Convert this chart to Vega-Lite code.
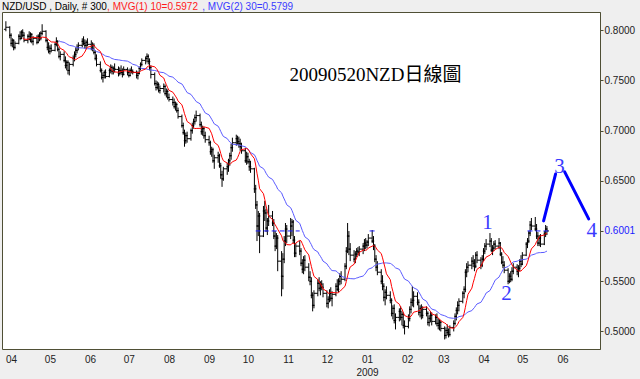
{
"$schema":"https://vega.github.io/schema/vega-lite/v6.json",
"width":598,"height":337,
"autosize":{"type":"none"},
"padding":{"left":2,"top":12,"right":40,"bottom":30},
"background":"#efefef",
"config":{"view":{"fill":"#ffffff","stroke":"#4f4f35","strokeWidth":1},"font":"Liberation Sans"},
"datasets":{
"px":[
{"d":"2008-03-28","o":0.8010,"h":0.8090,"l":0.7990,"c":0.8030},
{"d":"2008-03-31","o":0.8030,"h":0.8040,"l":0.7920,"c":0.7950},
{"d":"2008-04-01","o":0.7950,"h":0.7970,"l":0.7840,"c":0.7870},
{"d":"2008-04-02","o":0.7870,"h":0.7920,"l":0.7830,"c":0.7900},
{"d":"2008-04-03","o":0.7900,"h":0.7910,"l":0.7800,"c":0.7830},
{"d":"2008-04-04","o":0.7830,"h":0.7890,"l":0.7810,"c":0.7870},
{"d":"2008-04-07","o":0.7870,"h":0.7960,"l":0.7860,"c":0.7940},
{"d":"2008-04-08","o":0.7940,"h":0.7990,"l":0.7900,"c":0.7920},
{"d":"2008-04-09","o":0.7920,"h":0.8000,"l":0.7910,"c":0.7980},
{"d":"2008-04-10","o":0.7980,"h":0.8010,"l":0.7930,"c":0.7950},
{"d":"2008-04-11","o":0.7950,"h":0.7980,"l":0.7880,"c":0.7900},
{"d":"2008-04-14","o":0.7900,"h":0.7960,"l":0.7870,"c":0.7940},
{"d":"2008-04-15","o":0.7940,"h":0.7990,"l":0.7900,"c":0.7910},
{"d":"2008-04-16","o":0.7910,"h":0.7980,"l":0.7880,"c":0.7960},
{"d":"2008-04-17","o":0.7960,"h":0.7970,"l":0.7870,"c":0.7890},
{"d":"2008-04-18","o":0.7890,"h":0.7940,"l":0.7850,"c":0.7920},
{"d":"2008-04-21","o":0.7920,"h":0.7950,"l":0.7860,"c":0.7880},
{"d":"2008-04-22","o":0.7880,"h":0.7960,"l":0.7870,"c":0.7940},
{"d":"2008-04-23","o":0.7940,"h":0.7980,"l":0.7890,"c":0.7920},
{"d":"2008-04-24","o":0.7920,"h":0.7990,"l":0.7900,"c":0.7970},
{"d":"2008-04-25","o":0.7970,"h":0.8060,"l":0.7950,"c":0.7990},
{"d":"2008-04-28","o":0.7990,"h":0.8000,"l":0.7880,"c":0.7900},
{"d":"2008-04-29","o":0.7900,"h":0.7910,"l":0.7800,"c":0.7830},
{"d":"2008-04-30","o":0.7830,"h":0.7880,"l":0.7770,"c":0.7790},
{"d":"2008-05-01","o":0.7790,"h":0.7850,"l":0.7760,"c":0.7820},
{"d":"2008-05-02","o":0.7820,"h":0.7860,"l":0.7780,"c":0.7800},
{"d":"2008-05-05","o":0.7800,"h":0.7880,"l":0.7790,"c":0.7860},
{"d":"2008-05-06","o":0.7860,"h":0.7930,"l":0.7840,"c":0.7890},
{"d":"2008-05-07","o":0.7890,"h":0.7900,"l":0.7790,"c":0.7810},
{"d":"2008-05-08","o":0.7810,"h":0.7830,"l":0.7720,"c":0.7740},
{"d":"2008-05-09","o":0.7740,"h":0.7790,"l":0.7700,"c":0.7760},
{"d":"2008-05-12","o":0.7760,"h":0.7790,"l":0.7680,"c":0.7700},
{"d":"2008-05-13","o":0.7700,"h":0.7740,"l":0.7620,"c":0.7650},
{"d":"2008-05-14","o":0.7650,"h":0.7700,"l":0.7600,"c":0.7680},
{"d":"2008-05-15","o":0.7680,"h":0.7700,"l":0.7560,"c":0.7600},
{"d":"2008-05-16","o":0.7600,"h":0.7680,"l":0.7550,"c":0.7660},
{"d":"2008-05-19","o":0.7660,"h":0.7750,"l":0.7640,"c":0.7720},
{"d":"2008-05-20","o":0.7720,"h":0.7790,"l":0.7690,"c":0.7760},
{"d":"2008-05-21","o":0.7760,"h":0.7830,"l":0.7730,"c":0.7800},
{"d":"2008-05-22","o":0.7800,"h":0.7860,"l":0.7770,"c":0.7830},
{"d":"2008-05-23","o":0.7830,"h":0.7880,"l":0.7800,"c":0.7850},
{"d":"2008-05-26","o":0.7850,"h":0.7920,"l":0.7830,"c":0.7890},
{"d":"2008-05-27","o":0.7890,"h":0.7940,"l":0.7850,"c":0.7870},
{"d":"2008-05-28","o":0.7870,"h":0.7910,"l":0.7820,"c":0.7850},
{"d":"2008-05-29","o":0.7850,"h":0.7900,"l":0.7810,"c":0.7880},
{"d":"2008-05-30","o":0.7880,"h":0.7920,"l":0.7840,"c":0.7860},
{"d":"2008-06-02","o":0.7860,"h":0.7900,"l":0.7800,"c":0.7820},
{"d":"2008-06-03","o":0.7820,"h":0.7880,"l":0.7790,"c":0.7850},
{"d":"2008-06-04","o":0.7850,"h":0.7870,"l":0.7760,"c":0.7780},
{"d":"2008-06-05","o":0.7780,"h":0.7800,"l":0.7700,"c":0.7720},
{"d":"2008-06-06","o":0.7720,"h":0.7760,"l":0.7640,"c":0.7660},
{"d":"2008-06-09","o":0.7660,"h":0.7690,"l":0.7580,"c":0.7600},
{"d":"2008-06-10","o":0.7600,"h":0.7620,"l":0.7510,"c":0.7530},
{"d":"2008-06-11","o":0.7530,"h":0.7580,"l":0.7480,"c":0.7550},
{"d":"2008-06-12","o":0.7550,"h":0.7600,"l":0.7520,"c":0.7580},
{"d":"2008-06-13","o":0.7580,"h":0.7610,"l":0.7520,"c":0.7540},
{"d":"2008-06-16","o":0.7540,"h":0.7620,"l":0.7530,"c":0.7600},
{"d":"2008-06-17","o":0.7600,"h":0.7660,"l":0.7570,"c":0.7630},
{"d":"2008-06-18","o":0.7630,"h":0.7650,"l":0.7560,"c":0.7590},
{"d":"2008-06-19","o":0.7590,"h":0.7640,"l":0.7560,"c":0.7620},
{"d":"2008-06-20","o":0.7620,"h":0.7670,"l":0.7580,"c":0.7610},
{"d":"2008-06-23","o":0.7610,"h":0.7640,"l":0.7540,"c":0.7570},
{"d":"2008-06-24","o":0.7570,"h":0.7630,"l":0.7550,"c":0.7600},
{"d":"2008-06-25","o":0.7600,"h":0.7650,"l":0.7560,"c":0.7580},
{"d":"2008-06-26","o":0.7580,"h":0.7620,"l":0.7530,"c":0.7560},
{"d":"2008-06-27","o":0.7560,"h":0.7640,"l":0.7550,"c":0.7610},
{"d":"2008-06-30","o":0.7610,"h":0.7630,"l":0.7550,"c":0.7580},
{"d":"2008-07-01","o":0.7580,"h":0.7610,"l":0.7530,"c":0.7550},
{"d":"2008-07-02","o":0.7550,"h":0.7620,"l":0.7540,"c":0.7600},
{"d":"2008-07-03","o":0.7600,"h":0.7640,"l":0.7570,"c":0.7590},
{"d":"2008-07-04","o":0.7590,"h":0.7610,"l":0.7560,"c":0.7580},
{"d":"2008-07-07","o":0.7580,"h":0.7600,"l":0.7520,"c":0.7550},
{"d":"2008-07-08","o":0.7550,"h":0.7590,"l":0.7510,"c":0.7570},
{"d":"2008-07-09","o":0.7570,"h":0.7640,"l":0.7560,"c":0.7620},
{"d":"2008-07-10","o":0.7620,"h":0.7680,"l":0.7600,"c":0.7660},
{"d":"2008-07-11","o":0.7660,"h":0.7720,"l":0.7640,"c":0.7700},
{"d":"2008-07-14","o":0.7700,"h":0.7740,"l":0.7660,"c":0.7720},
{"d":"2008-07-15","o":0.7720,"h":0.7770,"l":0.7680,"c":0.7740},
{"d":"2008-07-16","o":0.7740,"h":0.7760,"l":0.7660,"c":0.7690},
{"d":"2008-07-17","o":0.7690,"h":0.7720,"l":0.7600,"c":0.7630},
{"d":"2008-07-18","o":0.7630,"h":0.7650,"l":0.7520,"c":0.7560},
{"d":"2008-07-21","o":0.7560,"h":0.7580,"l":0.7450,"c":0.7470},
{"d":"2008-07-22","o":0.7470,"h":0.7500,"l":0.7400,"c":0.7430},
{"d":"2008-07-23","o":0.7430,"h":0.7490,"l":0.7410,"c":0.7460},
{"d":"2008-07-24","o":0.7460,"h":0.7480,"l":0.7380,"c":0.7400},
{"d":"2008-07-25","o":0.7400,"h":0.7450,"l":0.7370,"c":0.7420},
{"d":"2008-07-28","o":0.7420,"h":0.7470,"l":0.7380,"c":0.7440},
{"d":"2008-07-29","o":0.7440,"h":0.7460,"l":0.7350,"c":0.7370},
{"d":"2008-07-30","o":0.7370,"h":0.7420,"l":0.7330,"c":0.7390},
{"d":"2008-07-31","o":0.7390,"h":0.7410,"l":0.7310,"c":0.7330},
{"d":"2008-08-01","o":0.7330,"h":0.7370,"l":0.7290,"c":0.7310},
{"d":"2008-08-04","o":0.7310,"h":0.7340,"l":0.7250,"c":0.7280},
{"d":"2008-08-05","o":0.7280,"h":0.7320,"l":0.7220,"c":0.7240},
{"d":"2008-08-06","o":0.7240,"h":0.7290,"l":0.7200,"c":0.7260},
{"d":"2008-08-07","o":0.7260,"h":0.7280,"l":0.7180,"c":0.7200},
{"d":"2008-08-08","o":0.7200,"h":0.7230,"l":0.7120,"c":0.7140},
{"d":"2008-08-11","o":0.7140,"h":0.7160,"l":0.7030,"c":0.7050},
{"d":"2008-08-12","o":0.7050,"h":0.7080,"l":0.6960,"c":0.6980},
{"d":"2008-08-13","o":0.6980,"h":0.7010,"l":0.6840,"c":0.6900},
{"d":"2008-08-14","o":0.6900,"h":0.6980,"l":0.6870,"c":0.6950},
{"d":"2008-08-15","o":0.6950,"h":0.6990,"l":0.6880,"c":0.6920},
{"d":"2008-08-18","o":0.6920,"h":0.7020,"l":0.6900,"c":0.7000},
{"d":"2008-08-19","o":0.7000,"h":0.7080,"l":0.6970,"c":0.7050},
{"d":"2008-08-20","o":0.7050,"h":0.7120,"l":0.7020,"c":0.7090},
{"d":"2008-08-21","o":0.7090,"h":0.7160,"l":0.7060,"c":0.7130},
{"d":"2008-08-22","o":0.7130,"h":0.7200,"l":0.7090,"c":0.7150},
{"d":"2008-08-25","o":0.7150,"h":0.7170,"l":0.7040,"c":0.7060},
{"d":"2008-08-26","o":0.7060,"h":0.7090,"l":0.6960,"c":0.6990},
{"d":"2008-08-27","o":0.6990,"h":0.7050,"l":0.6950,"c":0.7020},
{"d":"2008-08-28","o":0.7020,"h":0.7040,"l":0.6920,"c":0.6950},
{"d":"2008-08-29","o":0.6950,"h":0.6990,"l":0.6880,"c":0.6910},
{"d":"2008-09-01","o":0.6910,"h":0.6950,"l":0.6850,"c":0.6880},
{"d":"2008-09-02","o":0.6880,"h":0.6900,"l":0.6760,"c":0.6790},
{"d":"2008-09-03","o":0.6790,"h":0.6840,"l":0.6740,"c":0.6810},
{"d":"2008-09-04","o":0.6810,"h":0.6830,"l":0.6680,"c":0.6700},
{"d":"2008-09-05","o":0.6700,"h":0.6760,"l":0.6620,"c":0.6730},
{"d":"2008-09-08","o":0.6730,"h":0.6790,"l":0.6680,"c":0.6750},
{"d":"2008-09-09","o":0.6750,"h":0.6770,"l":0.6630,"c":0.6650},
{"d":"2008-09-10","o":0.6650,"h":0.6680,"l":0.6520,"c":0.6560},
{"d":"2008-09-11","o":0.6560,"h":0.6600,"l":0.6440,"c":0.6520},
{"d":"2008-09-12","o":0.6520,"h":0.6640,"l":0.6500,"c":0.6620},
{"d":"2008-09-15","o":0.6620,"h":0.6680,"l":0.6560,"c":0.6640},
{"d":"2008-09-16","o":0.6640,"h":0.6720,"l":0.6590,"c":0.6700},
{"d":"2008-09-17","o":0.6700,"h":0.6780,"l":0.6650,"c":0.6750},
{"d":"2008-09-18","o":0.6750,"h":0.6870,"l":0.6710,"c":0.6830},
{"d":"2008-09-19","o":0.6830,"h":0.6930,"l":0.6790,"c":0.6880},
{"d":"2008-09-22","o":0.6880,"h":0.6960,"l":0.6850,"c":0.6920},
{"d":"2008-09-23","o":0.6920,"h":0.6950,"l":0.6860,"c":0.6890},
{"d":"2008-09-24","o":0.6890,"h":0.6940,"l":0.6830,"c":0.6870},
{"d":"2008-09-25","o":0.6870,"h":0.6920,"l":0.6800,"c":0.6840},
{"d":"2008-09-26","o":0.6840,"h":0.6880,"l":0.6770,"c":0.6800},
{"d":"2008-09-29","o":0.6800,"h":0.6830,"l":0.6680,"c":0.6700},
{"d":"2008-09-30","o":0.6700,"h":0.6790,"l":0.6660,"c":0.6740},
{"d":"2008-10-01","o":0.6740,"h":0.6780,"l":0.6670,"c":0.6690},
{"d":"2008-10-02","o":0.6690,"h":0.6720,"l":0.6600,"c":0.6640},
{"d":"2008-10-03","o":0.6640,"h":0.6700,"l":0.6580,"c":0.6620},
{"d":"2008-10-06","o":0.6620,"h":0.6630,"l":0.6380,"c":0.6420},
{"d":"2008-10-07","o":0.6420,"h":0.6460,"l":0.6220,"c":0.6260},
{"d":"2008-10-08","o":0.6260,"h":0.6300,"l":0.5900,"c":0.6050},
{"d":"2008-10-09","o":0.6050,"h":0.6200,"l":0.5950,"c":0.6150},
{"d":"2008-10-10","o":0.6150,"h":0.6180,"l":0.5780,"c":0.5950},
{"d":"2008-10-13","o":0.5950,"h":0.6250,"l":0.5940,"c":0.6200},
{"d":"2008-10-14","o":0.6200,"h":0.6300,"l":0.6100,"c":0.6180},
{"d":"2008-10-15","o":0.6180,"h":0.6220,"l":0.5990,"c":0.6030},
{"d":"2008-10-16","o":0.6030,"h":0.6130,"l":0.5960,"c":0.6100},
{"d":"2008-10-17","o":0.6100,"h":0.6260,"l":0.6050,"c":0.6150},
{"d":"2008-10-20","o":0.6150,"h":0.6200,"l":0.6050,"c":0.6080},
{"d":"2008-10-21","o":0.6080,"h":0.6120,"l":0.5920,"c":0.5950},
{"d":"2008-10-22","o":0.5950,"h":0.6000,"l":0.5800,"c":0.5850},
{"d":"2008-10-23","o":0.5850,"h":0.5980,"l":0.5820,"c":0.5930},
{"d":"2008-10-24","o":0.5930,"h":0.5960,"l":0.5600,"c":0.5700},
{"d":"2008-10-27","o":0.5700,"h":0.5800,"l":0.5350,"c":0.5550},
{"d":"2008-10-28","o":0.5550,"h":0.5780,"l":0.5420,"c":0.5720},
{"d":"2008-10-29","o":0.5720,"h":0.5950,"l":0.5680,"c":0.5900},
{"d":"2008-10-30","o":0.5900,"h":0.6080,"l":0.5850,"c":0.6020},
{"d":"2008-10-31","o":0.6020,"h":0.6060,"l":0.5880,"c":0.5950},
{"d":"2008-11-03","o":0.5950,"h":0.6130,"l":0.5920,"c":0.6050},
{"d":"2008-11-04","o":0.6050,"h":0.6120,"l":0.5950,"c":0.6090},
{"d":"2008-11-05","o":0.6090,"h":0.6110,"l":0.5880,"c":0.5910},
{"d":"2008-11-06","o":0.5910,"h":0.5950,"l":0.5740,"c":0.5780},
{"d":"2008-11-07","o":0.5780,"h":0.5880,"l":0.5740,"c":0.5850},
{"d":"2008-11-10","o":0.5850,"h":0.5900,"l":0.5760,"c":0.5800},
{"d":"2008-11-11","o":0.5800,"h":0.5830,"l":0.5650,"c":0.5680},
{"d":"2008-11-12","o":0.5680,"h":0.5720,"l":0.5580,"c":0.5620},
{"d":"2008-11-13","o":0.5620,"h":0.5750,"l":0.5570,"c":0.5710},
{"d":"2008-11-14","o":0.5710,"h":0.5760,"l":0.5600,"c":0.5640},
{"d":"2008-11-17","o":0.5640,"h":0.5680,"l":0.5500,"c":0.5540},
{"d":"2008-11-18","o":0.5540,"h":0.5600,"l":0.5460,"c":0.5500},
{"d":"2008-11-19","o":0.5500,"h":0.5540,"l":0.5330,"c":0.5360},
{"d":"2008-11-20","o":0.5360,"h":0.5390,"l":0.5200,"c":0.5260},
{"d":"2008-11-21","o":0.5260,"h":0.5410,"l":0.5230,"c":0.5380},
{"d":"2008-11-24","o":0.5380,"h":0.5520,"l":0.5350,"c":0.5480},
{"d":"2008-11-25","o":0.5480,"h":0.5540,"l":0.5400,"c":0.5430},
{"d":"2008-11-26","o":0.5430,"h":0.5500,"l":0.5360,"c":0.5470},
{"d":"2008-11-27","o":0.5470,"h":0.5510,"l":0.5410,"c":0.5440},
{"d":"2008-11-28","o":0.5440,"h":0.5480,"l":0.5340,"c":0.5380},
{"d":"2008-12-01","o":0.5380,"h":0.5410,"l":0.5240,"c":0.5280},
{"d":"2008-12-02","o":0.5280,"h":0.5350,"l":0.5230,"c":0.5320},
{"d":"2008-12-03","o":0.5320,"h":0.5420,"l":0.5290,"c":0.5380},
{"d":"2008-12-04","o":0.5380,"h":0.5440,"l":0.5300,"c":0.5330},
{"d":"2008-12-05","o":0.5330,"h":0.5400,"l":0.5250,"c":0.5370},
{"d":"2008-12-08","o":0.5370,"h":0.5480,"l":0.5350,"c":0.5450},
{"d":"2008-12-09","o":0.5450,"h":0.5520,"l":0.5400,"c":0.5420},
{"d":"2008-12-10","o":0.5420,"h":0.5530,"l":0.5390,"c":0.5500},
{"d":"2008-12-11","o":0.5500,"h":0.5580,"l":0.5460,"c":0.5550},
{"d":"2008-12-12","o":0.5550,"h":0.5600,"l":0.5470,"c":0.5520},
{"d":"2008-12-15","o":0.5520,"h":0.5680,"l":0.5500,"c":0.5650},
{"d":"2008-12-16","o":0.5650,"h":0.5840,"l":0.5620,"c":0.5800},
{"d":"2008-12-17","o":0.5800,"h":0.6080,"l":0.5780,"c":0.5950},
{"d":"2008-12-18","o":0.5950,"h":0.6000,"l":0.5760,"c":0.5820},
{"d":"2008-12-19","o":0.5820,"h":0.5880,"l":0.5700,"c":0.5760},
{"d":"2008-12-22","o":0.5760,"h":0.5810,"l":0.5690,"c":0.5720},
{"d":"2008-12-23","o":0.5720,"h":0.5800,"l":0.5680,"c":0.5770},
{"d":"2008-12-24","o":0.5770,"h":0.5830,"l":0.5740,"c":0.5800},
{"d":"2008-12-25","o":0.5800,"h":0.5840,"l":0.5760,"c":0.5790},
{"d":"2008-12-26","o":0.5790,"h":0.5850,"l":0.5750,"c":0.5820},
{"d":"2008-12-29","o":0.5820,"h":0.5880,"l":0.5770,"c":0.5850},
{"d":"2008-12-30","o":0.5850,"h":0.5920,"l":0.5800,"c":0.5880},
{"d":"2008-12-31","o":0.5880,"h":0.5930,"l":0.5820,"c":0.5860},
{"d":"2009-01-01","o":0.5860,"h":0.5910,"l":0.5830,"c":0.5890},
{"d":"2009-01-02","o":0.5890,"h":0.5970,"l":0.5850,"c":0.5930},
{"d":"2009-01-05","o":0.5930,"h":0.6010,"l":0.5880,"c":0.5900},
{"d":"2009-01-06","o":0.5900,"h":0.5950,"l":0.5810,"c":0.5850},
{"d":"2009-01-07","o":0.5850,"h":0.5870,"l":0.5690,"c":0.5720},
{"d":"2009-01-08","o":0.5720,"h":0.5760,"l":0.5600,"c":0.5640},
{"d":"2009-01-09","o":0.5640,"h":0.5700,"l":0.5560,"c":0.5590},
{"d":"2009-01-12","o":0.5590,"h":0.5620,"l":0.5470,"c":0.5500},
{"d":"2009-01-13","o":0.5500,"h":0.5560,"l":0.5410,"c":0.5450},
{"d":"2009-01-14","o":0.5450,"h":0.5480,"l":0.5300,"c":0.5340},
{"d":"2009-01-15","o":0.5340,"h":0.5420,"l":0.5260,"c":0.5390},
{"d":"2009-01-16","o":0.5390,"h":0.5450,"l":0.5320,"c":0.5360},
{"d":"2009-01-19","o":0.5360,"h":0.5400,"l":0.5280,"c":0.5310},
{"d":"2009-01-20","o":0.5310,"h":0.5330,"l":0.5150,"c":0.5180},
{"d":"2009-01-21","o":0.5180,"h":0.5260,"l":0.5120,"c":0.5230},
{"d":"2009-01-22","o":0.5230,"h":0.5270,"l":0.5080,"c":0.5110},
{"d":"2009-01-23","o":0.5110,"h":0.5180,"l":0.5020,"c":0.5140},
{"d":"2009-01-26","o":0.5140,"h":0.5230,"l":0.5100,"c":0.5200},
{"d":"2009-01-27","o":0.5200,"h":0.5250,"l":0.5110,"c":0.5140},
{"d":"2009-01-28","o":0.5140,"h":0.5200,"l":0.5060,"c":0.5170},
{"d":"2009-01-29","o":0.5170,"h":0.5190,"l":0.5030,"c":0.5060},
{"d":"2009-01-30","o":0.5060,"h":0.5110,"l":0.4970,"c":0.5050},
{"d":"2009-02-02","o":0.5050,"h":0.5170,"l":0.5030,"c":0.5130},
{"d":"2009-02-03","o":0.5130,"h":0.5250,"l":0.5100,"c":0.5220},
{"d":"2009-02-04","o":0.5220,"h":0.5330,"l":0.5180,"c":0.5290},
{"d":"2009-02-05","o":0.5290,"h":0.5450,"l":0.5250,"c":0.5310},
{"d":"2009-02-06","o":0.5310,"h":0.5400,"l":0.5240,"c":0.5350},
{"d":"2009-02-09","o":0.5350,"h":0.5390,"l":0.5260,"c":0.5290},
{"d":"2009-02-10","o":0.5290,"h":0.5320,"l":0.5160,"c":0.5190},
{"d":"2009-02-11","o":0.5190,"h":0.5260,"l":0.5140,"c":0.5230},
{"d":"2009-02-12","o":0.5230,"h":0.5270,"l":0.5120,"c":0.5160},
{"d":"2009-02-13","o":0.5160,"h":0.5250,"l":0.5130,"c":0.5220},
{"d":"2009-02-16","o":0.5220,"h":0.5250,"l":0.5150,"c":0.5180},
{"d":"2009-02-17","o":0.5180,"h":0.5200,"l":0.5060,"c":0.5090},
{"d":"2009-02-18","o":0.5090,"h":0.5160,"l":0.5050,"c":0.5130},
{"d":"2009-02-19","o":0.5130,"h":0.5200,"l":0.5090,"c":0.5160},
{"d":"2009-02-20","o":0.5160,"h":0.5190,"l":0.5060,"c":0.5100},
{"d":"2009-02-23","o":0.5100,"h":0.5170,"l":0.5070,"c":0.5140},
{"d":"2009-02-24","o":0.5140,"h":0.5180,"l":0.5050,"c":0.5080},
{"d":"2009-02-25","o":0.5080,"h":0.5130,"l":0.5020,"c":0.5060},
{"d":"2009-02-26","o":0.5060,"h":0.5120,"l":0.5010,"c":0.5090},
{"d":"2009-02-27","o":0.5090,"h":0.5110,"l":0.5000,"c":0.5030},
{"d":"2009-03-02","o":0.5030,"h":0.5050,"l":0.4920,"c":0.4960},
{"d":"2009-03-03","o":0.4960,"h":0.5040,"l":0.4930,"c":0.5010},
{"d":"2009-03-04","o":0.5010,"h":0.5070,"l":0.4960,"c":0.4990},
{"d":"2009-03-05","o":0.4990,"h":0.5030,"l":0.4940,"c":0.4970},
{"d":"2009-03-06","o":0.4970,"h":0.5060,"l":0.4950,"c":0.5040},
{"d":"2009-03-09","o":0.5040,"h":0.5110,"l":0.5000,"c":0.5080},
{"d":"2009-03-10","o":0.5080,"h":0.5180,"l":0.5060,"c":0.5150},
{"d":"2009-03-11","o":0.5150,"h":0.5240,"l":0.5110,"c":0.5210},
{"d":"2009-03-12","o":0.5210,"h":0.5300,"l":0.5170,"c":0.5260},
{"d":"2009-03-13","o":0.5260,"h":0.5330,"l":0.5200,"c":0.5300},
{"d":"2009-03-16","o":0.5300,"h":0.5400,"l":0.5280,"c":0.5380},
{"d":"2009-03-17","o":0.5380,"h":0.5450,"l":0.5330,"c":0.5420},
{"d":"2009-03-18","o":0.5420,"h":0.5620,"l":0.5390,"c":0.5590},
{"d":"2009-03-19","o":0.5590,"h":0.5680,"l":0.5540,"c":0.5640},
{"d":"2009-03-20","o":0.5640,"h":0.5700,"l":0.5590,"c":0.5660},
{"d":"2009-03-23","o":0.5660,"h":0.5740,"l":0.5620,"c":0.5700},
{"d":"2009-03-24","o":0.5700,"h":0.5760,"l":0.5640,"c":0.5680},
{"d":"2009-03-25","o":0.5680,"h":0.5720,"l":0.5600,"c":0.5650},
{"d":"2009-03-26","o":0.5650,"h":0.5790,"l":0.5630,"c":0.5760},
{"d":"2009-03-27","o":0.5760,"h":0.5800,"l":0.5680,"c":0.5710},
{"d":"2009-03-30","o":0.5710,"h":0.5740,"l":0.5620,"c":0.5660},
{"d":"2009-03-31","o":0.5660,"h":0.5760,"l":0.5640,"c":0.5720},
{"d":"2009-04-01","o":0.5720,"h":0.5830,"l":0.5700,"c":0.5800},
{"d":"2009-04-02","o":0.5800,"h":0.5880,"l":0.5770,"c":0.5850},
{"d":"2009-04-03","o":0.5850,"h":0.5920,"l":0.5810,"c":0.5870},
{"d":"2009-04-06","o":0.5870,"h":0.5980,"l":0.5840,"c":0.5900},
{"d":"2009-04-07","o":0.5900,"h":0.5930,"l":0.5790,"c":0.5810},
{"d":"2009-04-08","o":0.5810,"h":0.5860,"l":0.5760,"c":0.5830},
{"d":"2009-04-09","o":0.5830,"h":0.5900,"l":0.5800,"c":0.5870},
{"d":"2009-04-10","o":0.5870,"h":0.5910,"l":0.5820,"c":0.5850},
{"d":"2009-04-13","o":0.5850,"h":0.5930,"l":0.5820,"c":0.5880},
{"d":"2009-04-14","o":0.5880,"h":0.5890,"l":0.5750,"c":0.5770},
{"d":"2009-04-15","o":0.5770,"h":0.5790,"l":0.5670,"c":0.5690},
{"d":"2009-04-16","o":0.5690,"h":0.5750,"l":0.5630,"c":0.5660},
{"d":"2009-04-17","o":0.5660,"h":0.5700,"l":0.5580,"c":0.5610},
{"d":"2009-04-20","o":0.5610,"h":0.5630,"l":0.5470,"c":0.5500},
{"d":"2009-04-21","o":0.5500,"h":0.5580,"l":0.5480,"c":0.5550},
{"d":"2009-04-22","o":0.5550,"h":0.5600,"l":0.5490,"c":0.5520},
{"d":"2009-04-23","o":0.5520,"h":0.5640,"l":0.5500,"c":0.5600},
{"d":"2009-04-24","o":0.5600,"h":0.5680,"l":0.5570,"c":0.5640},
{"d":"2009-04-27","o":0.5640,"h":0.5670,"l":0.5560,"c":0.5600},
{"d":"2009-04-28","o":0.5600,"h":0.5660,"l":0.5540,"c":0.5630},
{"d":"2009-04-29","o":0.5630,"h":0.5720,"l":0.5600,"c":0.5700},
{"d":"2009-04-30","o":0.5700,"h":0.5760,"l":0.5640,"c":0.5670},
{"d":"2009-05-01","o":0.5670,"h":0.5790,"l":0.5660,"c":0.5760},
{"d":"2009-05-04","o":0.5760,"h":0.5890,"l":0.5750,"c":0.5870},
{"d":"2009-05-05","o":0.5870,"h":0.5930,"l":0.5830,"c":0.5900},
{"d":"2009-05-06","o":0.5900,"h":0.6000,"l":0.5880,"c":0.5980},
{"d":"2009-05-07","o":0.5980,"h":0.6100,"l":0.5950,"c":0.6060},
{"d":"2009-05-08","o":0.6060,"h":0.6130,"l":0.6010,"c":0.6050},
{"d":"2009-05-11","o":0.6050,"h":0.6140,"l":0.6000,"c":0.6020},
{"d":"2009-05-12","o":0.6020,"h":0.6070,"l":0.5920,"c":0.5950},
{"d":"2009-05-13","o":0.5950,"h":0.5990,"l":0.5850,"c":0.5880},
{"d":"2009-05-14","o":0.5880,"h":0.5960,"l":0.5850,"c":0.5930},
{"d":"2009-05-15","o":0.5930,"h":0.5970,"l":0.5840,"c":0.5870},
{"d":"2009-05-18","o":0.5870,"h":0.6000,"l":0.5860,"c":0.5970},
{"d":"2009-05-19","o":0.5970,"h":0.6060,"l":0.5940,"c":0.6020},
{"d":"2009-05-20","o":0.6020,"h":0.6050,"l":0.5960,"c":0.6001}
],
"lvl":[
{"a":"2008-10-07","b":"2008-11-10"},
{"a":"2009-01-03","b":"2009-01-07"},
{"a":"2009-05-05","b":"2009-05-21"}
]
},
"layer":[
{"data":{"name":"px"},
 "mark":{"type":"rule","color":"#000000","strokeWidth":1},
 "encoding":{
  "x":{"field":"d","type":"temporal","title":null,
   "scale":{"domain":[{"year":2008,"month":3,"date":25},{"year":2009,"month":6,"date":30}],"nice":false},
   "axis":{"orient":"bottom","format":"%m","tickCount":{"interval":"month","step":1},
     "labelExpr":"month(datum.value)==0 ? ['01','2009'] : timeFormat(datum.value,'%m')",
     "ticks":false,"domain":false,"grid":false,"labelFontSize":10,"labelColor":"#222222","labelPadding":5,
     "labelFlush":false,"labelOverlap":false,"labelLineHeight":13,"labelFont":"Liberation Sans"}},
  "y":{"field":"l","type":"quantitative","title":null,
   "scale":{"domain":[0.4825,0.8182],"zero":false,"nice":false},
   "axis":{"orient":"right","values":[0.5,0.55,0.6001,0.65,0.7,0.75,0.8],"format":".4f","grid":false,
     "tickSize":3,"tickColor":"#4f4f35","domainColor":"#4f4f35","labelFontSize":10,"labelPadding":1,"labelFont":"Liberation Sans",
     "labelColor":{"condition":{"test":"datum.value>0.6 && datum.value<0.601","value":"#1a1aff"},"value":"#222222"}}},
  "y2":{"field":"h"}
 }},
{"data":{"name":"px"},
 "mark":{"type":"tick","orient":"horizontal","size":2,"thickness":1,"xOffset":-1,"color":"#000000","opacity":1},
 "encoding":{"x":{"field":"d","type":"temporal","title":null},"y":{"field":"o","type":"quantitative","title":null}}},
{"data":{"name":"px"},
 "mark":{"type":"tick","orient":"horizontal","size":2,"thickness":1,"xOffset":1,"color":"#000000","opacity":1},
 "encoding":{"x":{"field":"d","type":"temporal","title":null},"y":{"field":"c","type":"quantitative","title":null}}},
{"data":{"name":"px"},
 "transform":[{"window":[{"op":"mean","field":"c","as":"m30"},{"op":"count","as":"n30"}],"frame":[-29,0],"sort":[{"field":"d"}]},{"filter":"datum.n30>=30"}],
 "mark":{"type":"line","color":"#5a5aff","strokeWidth":1},
 "encoding":{"x":{"field":"d","type":"temporal","title":null},"y":{"field":"m30","type":"quantitative","title":null}}},
{"data":{"name":"px"},
 "transform":[{"window":[{"op":"mean","field":"c","as":"m10"},{"op":"count","as":"n10"}],"frame":[-9,0],"sort":[{"field":"d"}]},{"filter":"datum.n10>=10"}],
 "mark":{"type":"line","color":"#ff0000","strokeWidth":1},
 "encoding":{"x":{"field":"d","type":"temporal","title":null},"y":{"field":"m10","type":"quantitative","title":null}}},
{"data":{"name":"lvl"},
 "mark":{"type":"rule","color":"#1a1aff","strokeWidth":1,"strokeDash":[5,3]},
 "encoding":{"x":{"field":"a","type":"temporal","title":null},"x2":{"field":"b"},"y":{"datum":0.6001,"type":"quantitative"}}},
{"data":{"values":[{}]},
 "mark":{"type":"rule","color":"#0000ff","strokeWidth":3,"strokeCap":"round"},
 "encoding":{"x":{"datum":{"year":2009,"month":5,"date":17,"hours":10},"type":"temporal"},"x2":{"datum":{"year":2009,"month":5,"date":26,"hours":17}},
  "y":{"datum":0.6101,"type":"quantitative"},"y2":{"datum":0.6569}}},
{"data":{"values":[{}]},
 "mark":{"type":"rule","color":"#0000ff","strokeWidth":3,"strokeCap":"round"},
 "encoding":{"x":{"datum":{"year":2009,"month":6,"date":2,"hours":17},"type":"temporal"},"x2":{"datum":{"year":2009,"month":6,"date":21,"hours":6}},
  "y":{"datum":0.6589,"type":"quantitative"},"y2":{"datum":0.6121}}},
{"data":{"values":[{}]},
 "mark":{"type":"text","font":"Liberation Serif","fontSize":21,"color":"#3a3aff","align":"center","baseline":"middle"},
 "encoding":{"x":{"datum":{"year":2009,"month":4,"date":4},"type":"temporal"},"y":{"datum":0.6082,"type":"quantitative"},"text":{"value":"1"}}},
{"data":{"values":[{}]},
 "mark":{"type":"text","font":"Liberation Serif","fontSize":21,"color":"#3a3aff","align":"center","baseline":"middle"},
 "encoding":{"x":{"datum":{"year":2009,"month":4,"date":18,"hours":19},"type":"temporal"},"y":{"datum":0.5376,"type":"quantitative"},"text":{"value":"2"}}},
{"data":{"values":[{}]},
 "mark":{"type":"text","font":"Liberation Serif","fontSize":21,"color":"#3a3aff","align":"center","baseline":"middle"},
 "encoding":{"x":{"datum":{"year":2009,"month":5,"date":29,"hours":19},"type":"temporal"},"y":{"datum":0.6638,"type":"quantitative"},"text":{"value":"3"}}},
{"data":{"values":[{}]},
 "mark":{"type":"text","font":"Liberation Serif","fontSize":21,"color":"#3a3aff","align":"center","baseline":"middle"},
 "encoding":{"x":{"datum":{"year":2009,"month":6,"date":23,"hours":14},"type":"temporal"},"y":{"datum":0.6002,"type":"quantitative"},"text":{"value":"4"}}},
{"data":{"values":[{}]},
 "mark":{"type":"text","font":"Liberation Serif, Noto Sans CJK TC","fontSize":19,"color":"#000000","align":"center","baseline":"middle"},
 "encoding":{"x":{"datum":{"year":2009,"month":1,"date":7,"hours":12},"type":"temporal"},"y":{"datum":0.7553,"type":"quantitative"},"text":{"value":"20090520NZD日線圖"}}},
{"data":{"values":[{}]},
 "mark":{"type":"text","font":"Liberation Sans","fontSize":10,"color":"#000000","align":"left","baseline":"middle"},
 "encoding":{"x":{"datum":{"year":2008,"month":3,"date":25},"type":"temporal"},"y":{"datum":0.8229,"type":"quantitative"},"text":{"value":"NZD/USD , Daily, # 300"}}},
{"data":{"values":[{}]},
 "mark":{"type":"text","font":"Liberation Sans","fontSize":10,"color":"#ff1a1a","align":"left","baseline":"middle"},
 "encoding":{"x":{"datum":{"year":2008,"month":6,"date":14,"hours":5},"type":"temporal"},"y":{"datum":0.8229,"type":"quantitative"},"text":{"value":", MVG(1) 10=0.5972"}}},
{"data":{"values":[{}]},
 "mark":{"type":"text","font":"Liberation Sans","fontSize":10,"color":"#3a3aff","align":"left","baseline":"middle"},
 "encoding":{"x":{"datum":{"year":2008,"month":8,"date":26,"hours":17},"type":"temporal"},"y":{"datum":0.8229,"type":"quantitative"},"text":{"value":", MVG(2) 30=0.5799"}}}
]
}
